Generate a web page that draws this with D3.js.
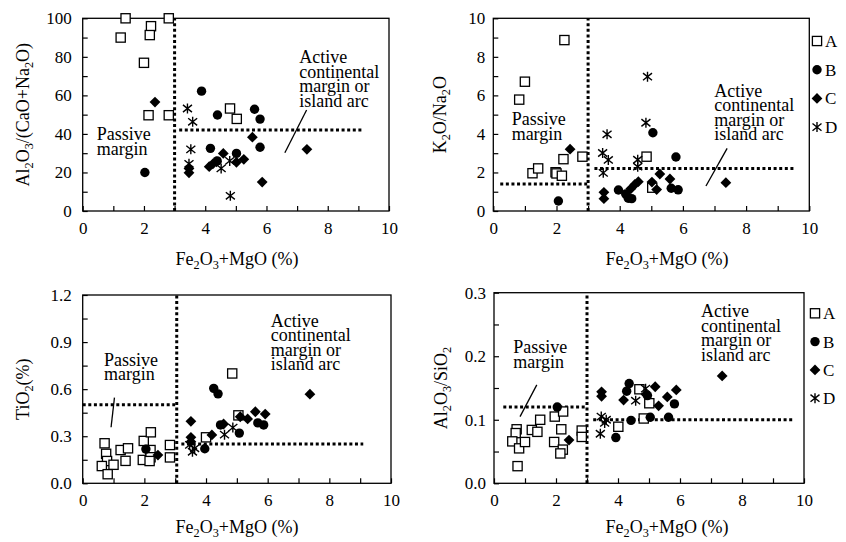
<!DOCTYPE html>
<html lang="en">
<head>
<meta charset="UTF-8" />
<title>Tectonic setting discrimination diagrams</title>
<script src="https://d3js.org/d3.v7.min.js"></script>
<style>
  body { margin: 0; background: #fff; }
  .axis .domain { display: none; }
  .axis line { stroke: #000; stroke-width: 1.2; }
</style>
</head>
<body>
<svg id="chart" width="846" height="542" font-family="'Liberation Serif', 'DejaVu Serif', serif"></svg>
<script>
// sample groups
const groups = ["A", "B", "C", "D"];
const xLabelTicks = [0, 2, 4, 6, 8, 10];

// Al2O3/(CaO+Na2O) vs Fe2O3+MgO
const p1A = [[1.40,100],[2.81,100],[1.24,90],[2.23,95.9],[2.19,91.3],[2.0,76.9],[2.15,49.7],[2.81,49.7],[4.81,53.2],[5.03,47.8]];
const p1B = [[3.88,62.2],[4.40,49.8],[5.61,52.8],[5.79,47.7],[2.03,20],[4.17,32.5],[5.79,33.1],[4.39,26],[5.02,29.9]];
const p1C = [[2.36,56.5],[3.47,22],[3.47,19.8],[4.13,23],[4.25,24.5],[4.37,25.5],[4.59,29.9],[5.02,25.3],[5.26,26.8],[5.54,38.3],[5.86,15],[7.32,32]];
const p1D = [[3.42,53.2],[3.59,46.3],[3.53,32],[3.47,24.5],[4.52,22.1],[4.8,26],[4.82,7.9]];

// K2O/Na2O vs Fe2O3+MgO
const p2A = [[2.25,8.87],[1.0,6.71],[0.82,5.78],[1.24,1.96],[1.42,2.21],[1.97,2.01],[2.0,1.95],[2.17,1.83],[2.22,2.69],[2.82,2.82],[4.85,2.82],[5.03,1.21]];
const p2B = [[2.06,0.52],[3.96,1.09],[4.19,0.88],[4.27,0.66],[4.38,0.64],[5.05,4.06],[5.78,2.8],[5.63,1.18],[5.85,1.1]];
const p2C = [[2.43,3.21],[3.5,0.97],[3.5,0.64],[4.35,1.15],[4.48,1.38],[4.59,1.52],[5.02,1.5],[5.17,1.11],[5.27,1.92],[5.59,1.66],[7.36,1.47]];
const p2D = [[4.88,6.97],[4.83,4.58],[3.6,3.98],[3.46,3.01],[3.64,2.65],[3.48,1.98],[4.57,2.66],[4.57,2.3]];

// TiO2 vs Fe2O3+MgO
const p3A = [[0.71,0.255],[0.76,0.188],[0.79,0.142],[0.62,0.11],[1.0,0.118],[0.81,0.058],[1.23,0.212],[1.47,0.223],[1.39,0.143],[1.98,0.27],[2.21,0.325],[2.2,0.212],[1.95,0.149],[2.2,0.166],[2.17,0.142],[2.83,0.244],[2.83,0.165],[4.0,0.293],[4.85,0.7],[5.05,0.433]];
const p3B = [[2.05,0.218],[4.25,0.605],[4.39,0.57],[4.47,0.372],[5.08,0.32],[5.68,0.385],[5.87,0.372],[3.96,0.22]];
const p3C = [[2.44,0.18],[3.51,0.395],[3.51,0.293],[3.51,0.265],[4.19,0.308],[4.57,0.378],[5.11,0.424],[5.35,0.41],[5.6,0.456],[5.92,0.441],[7.37,0.568]];
const p3D = [[3.47,0.245],[3.63,0.223],[3.56,0.201],[4.6,0.31],[4.87,0.355]];

// Al2O3/SiO2 vs Fe2O3+MgO
const p4A = [[0.73,0.085],[0.7,0.079],[0.59,0.066],[0.81,0.055],[1.0,0.065],[0.76,0.027],[1.22,0.084],[1.4,0.081],[1.49,0.1],[1.96,0.105],[2.23,0.113],[2.17,0.085],[1.94,0.065],[2.22,0.053],[2.14,0.047],[2.83,0.083],[2.83,0.073],[4.01,0.089],[4.83,0.102],[5.01,0.126],[4.69,0.148]];
const p4B = [[2.04,0.12],[3.93,0.072],[4.42,0.099],[4.36,0.157],[4.28,0.145],[5.04,0.104],[5.63,0.104],[5.82,0.125],[4.95,0.138]];
const p4C = [[3.47,0.144],[3.47,0.137],[4.18,0.131],[5.2,0.152],[5.59,0.136],[5.88,0.147],[5.31,0.122],[2.42,0.068],[7.36,0.169],[4.9,0.14]];
const p4D = [[3.46,0.105],[3.62,0.1],[3.57,0.095],[3.43,0.078],[4.57,0.13],[4.89,0.149]];

// text pieces, [text, isSubscript]
const xTitle = [["Fe",0],["2",1],["O",0],["3",1],["+MgO (%)",0]];
const passiveText = ["Passive", "margin"];
const activeText = ["Active", "continental", "margin or", "island arc"];

const panels = [
  { box: [82.7, 389, 18.3, 211], yMax: 100, yLabels: [0,20,40,60,80,100], yMinor: d3.range(0, 101, 10), fmt: d3.format("d"), pad: 11,
    series: [p1A, p1B, p1C, p1D], yTitle: [["Al",0],["2",1],["O",0],["3",1],["/(CaO+Na",0],["2",1],["O)",0]], yTitleX: 29, titleX: 237, titleDy: 54,
    passive: [0.46, 36.8], active: [7.07, 76.6], slash: [[6.6,30.2],[7.31,52.4]],
    dotted: [[[3,0],[3,100]], [[3.15,42],[9.15,42]]], legend: false },
  { box: [493.3, 809.3, 18.3, 211], yMax: 10, yLabels: [0,2,4,6,8,10], yMinor: d3.range(0, 11, 1), fmt: d3.format("d"), pad: 8,
    series: [p2A, p2B, p2C, p2D], yTitle: [["K",0],["2",1],["O/Na",0],["2",1],["O",0]], yTitleX: 446, titleX: 667, titleDy: 54,
    passive: [0.58, 4.46], active: [6.99, 5.93], slash: [[6.73,1.3],[7.4,3.25]],
    dotted: [[[3,0],[3,10]], [[0.22,1.4],[2.97,1.4]], [[3.2,2.21],[9.57,2.21]]], legend: [817, 41, 28.7] },
  { box: [82.7, 391, 295, 483.3], yMax: 1.2, yLabels: [0,0.3,0.6,0.9,1.2], yMinor: d3.range(0, 1.21, 0.15), fmt: d3.format(".1f"), pad: 11,
    series: [p3A, p3B, p3C, p3D], yTitle: [["TiO",0],["2",1],["(%)",0]], yTitleX: 29, titleX: 237, titleDy: 50,
    passive: [0.69, 0.748], active: [6.1, 0.998], slash: [[0.92,0.357],[1.03,0.546]],
    dotted: [[[3.05,0],[3.05,1.2]], [[0,0.5],[3,0.5]], [[3.2,0.25],[9.1,0.25]]], legend: false },
  { box: [494, 804, 292.7, 483.3], yMax: 0.3, yLabels: [0,0.1,0.2,0.3], yMinor: d3.range(0, 0.301, 0.05), fmt: d3.format(".1f"), pad: 8,
    series: [p4A, p4B, p4C, p4D], yTitle: [["Al",0],["2",1],["O",0],["3",1],["/SiO",0],["2",1]], yTitleX: 447, titleX: 667, titleDy: 50,
    passive: [0.62, 0.205], active: [6.68, 0.261], slash: [[0.84,0.105],[1.38,0.155]],
    dotted: [[[3,0],[3,0.3]], [[0.3,0.12],[3,0.12]], [[3.2,0.1],[9.62,0.1]]], legend: [815, 313.3, 28.3] }
];

const svg = d3.select("#chart");
const serif = "'Liberation Serif', 'DejaVu Serif', serif";

// marker shapes (local coords, centred on 0,0)
const markers = {
  A: g => g.append("rect").attr("x", -4.6).attr("y", -4.6).attr("width", 9.2).attr("height", 9.2)
           .attr("fill", "#fff").attr("stroke", "#000").attr("stroke-width", 1.3),
  B: g => g.append("circle").attr("r", 4.7).attr("fill", "#000"),
  C: g => g.append("path").attr("d", "M0,-5.4L5.4,0L0,5.4L-5.4,0Z").attr("fill", "#000"),
  D: g => g.append("path").attr("d", "M0,-5V5M-4.5,-3.6L4.5,3.6M-4.5,3.6L4.5,-3.6")
           .attr("fill", "none").attr("stroke", "#000").attr("stroke-width", 1.4)
};

function richText(sel, parts, size) {
  parts.forEach((p, i) => {
    const prevSub = i > 0 && parts[i - 1][1];
    const t = sel.append("tspan").text(p[0]);
    if (p[1]) t.attr("font-size", size * 0.68).attr("dy", size * 0.22);
    else if (prevSub) t.attr("dy", -size * 0.22);
  });
}

panels.forEach(p => {
  const [l, r, t, b] = p.box;
  const x = d3.scaleLinear().domain([0, 10]).range([l, r]);
  const y = d3.scaleLinear().domain([0, p.yMax]).range([b, t]);
  const g = svg.append("g");

  // inward minor ticks
  g.append("g").attr("class", "axis").attr("transform", `translate(0,${b})`)
    .call(d3.axisBottom(x).tickValues(d3.range(0, 11, 1)).tickSizeInner(-5).tickSizeOuter(0).tickFormat(""));
  g.append("g").attr("class", "axis").attr("transform", `translate(${l},0)`)
    .call(d3.axisLeft(y).tickValues(p.yMinor).tickSizeInner(-5).tickSizeOuter(0).tickFormat(""));

  // tick labels
  g.append("g").attr("class", "axis").attr("transform", `translate(0,${b})`)
    .call(d3.axisBottom(x).tickValues(xLabelTicks).tickSize(0).tickPadding(11))
    .attr("font-size", 17).attr("font-family", serif);
  g.append("g").attr("class", "axis").attr("transform", `translate(${l},0)`)
    .call(d3.axisLeft(y).tickValues(p.yLabels).tickSize(0).tickPadding(p.pad).tickFormat(p.fmt))
    .attr("font-size", 17).attr("font-family", serif);

  // frame
  g.append("rect").attr("x", l).attr("y", t).attr("width", r - l).attr("height", b - t)
    .attr("fill", "none").attr("stroke", "#000").attr("stroke-width", 1.3);

  // dotted boundaries
  p.dotted.forEach(seg => {
    g.append("line")
      .attr("x1", x(seg[0][0])).attr("y1", y(seg[0][1]))
      .attr("x2", x(seg[1][0])).attr("y2", y(seg[1][1]))
      .attr("stroke", "#000").attr("stroke-width", 3).attr("stroke-dasharray", "3 2.6");
  });

  // pointer line
  g.append("line")
    .attr("x1", x(p.slash[0][0])).attr("y1", y(p.slash[0][1]))
    .attr("x2", x(p.slash[1][0])).attr("y2", y(p.slash[1][1]))
    .attr("stroke", "#000").attr("stroke-width", 1.3);

  // points
  p.series.forEach((data, i) => {
    g.selectAll(null).data(data).join("g")
      .attr("transform", d => `translate(${x(d[0])},${y(d[1])})`)
      .each(function () { markers[groups[i]](d3.select(this)); });
  });

  // region labels
  const pt = g.append("text").attr("x", x(p.passive[0])).attr("y", y(p.passive[1])).attr("font-size", 18);
  passiveText.forEach((s, i) => pt.append("tspan").attr("x", x(p.passive[0])).attr("dy", i ? 14.5 : 0).text(s));
  const at = g.append("text").attr("x", x(p.active[0])).attr("y", y(p.active[1])).attr("font-size", 18);
  activeText.forEach((s, i) => at.append("tspan").attr("x", x(p.active[0])).attr("dy", i ? 14.5 : 0).text(s));

  // axis titles
  richText(g.append("text").attr("x", p.titleX).attr("y", b + p.titleDy).attr("text-anchor", "middle").attr("font-size", 18), xTitle, 18);
  richText(g.append("text").attr("text-anchor", "middle").attr("font-size", 18)
    .attr("transform", `translate(${p.yTitleX},${(t + b) / 2}) rotate(-90)`), p.yTitle, 18);

  // legend
  if (p.legend) {
    const [lx, ly, step] = p.legend;
    groups.forEach((name, i) => {
      const lg = g.append("g").attr("transform", `translate(${lx},${ly + i * step})`);
      markers[name](lg);
      lg.append("text").attr("x", 8).attr("y", 6).attr("font-size", 17).text(name);
    });
  }
});

svg.selectAll("text").style("font-family", serif).attr("fill", "#000");
</script>
</body>
</html>
